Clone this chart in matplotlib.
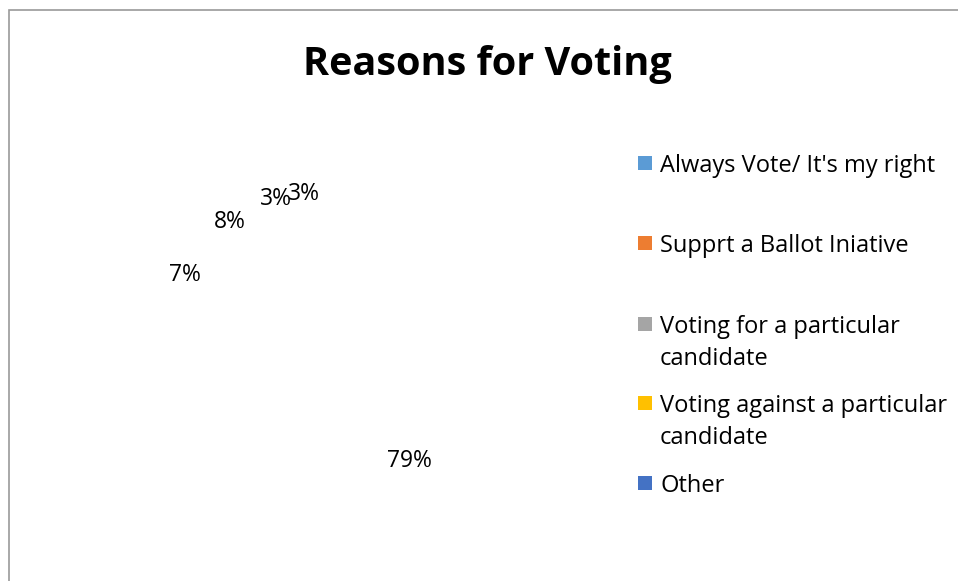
import matplotlib.pyplot as plt
from matplotlib.patches import Rectangle

# Survey answers
reasons = ["Always Vote/ It's my right", "Supprt a Ballot Iniative",
           "Voting for a particular\ncandidate",
           "Voting against a particular\ncandidate", "Other"]
shares = [79, 7, 8, 3, 3]
colors = ["#5B9BD5", "#ED7D31", "#A5A5A5", "#FFC000", "#4472C4"]

W, H = 958, 581
fig = plt.figure(figsize=(W / 100, H / 100), dpi=100)
plt.rcParams["font.family"] = ["Open Sans", "DejaVu Sans"]

# chart frame
fig.patches.append(Rectangle((9 / W, -0.1), 1.2, 1.1 - 10 / H, transform=fig.transFigure,
                             fill=False, edgecolor="#9a9a9a", lw=1.2))

# pie centred around x=318, y=343 (px from top), radius 230 px
R = 230
cx, cy = 318, 343
ax = fig.add_axes([(cx - R) / W, (H - cy - R) / H, 2 * R / W, 2 * R / H])
wedges, texts, autotexts = ax.pie(shares, colors=["white"] * len(shares),
                                  startangle=90, counterclock=False,
                                  autopct="%1.0f%%", pctdistance=0.65,
                                  textprops={"fontsize": 16.5, "color": "black"})
ax.set_xlim(-1, 1)
ax.set_ylim(-1, 1)
ax.axis("off")

fig.text(487 / W, 1 - 65 / H, "Reasons for Voting", ha="center", va="center",
         fontsize=28.5, fontweight="bold")

# legend
tops = [163, 243, 324, 403, 483]
for name, col, y in zip(reasons, colors, tops):
    fig.patches.append(Rectangle((638 / W, 1 - (y + 7) / H), 14 / W, 14 / H,
                                 transform=fig.transFigure, color=col, lw=0))
    fig.text(660 / W, 1 - (y - 9) / H, name, ha="left", va="top",
             fontsize=17, linespacing=1.42)

fig.savefig("out.png", dpi=100)
